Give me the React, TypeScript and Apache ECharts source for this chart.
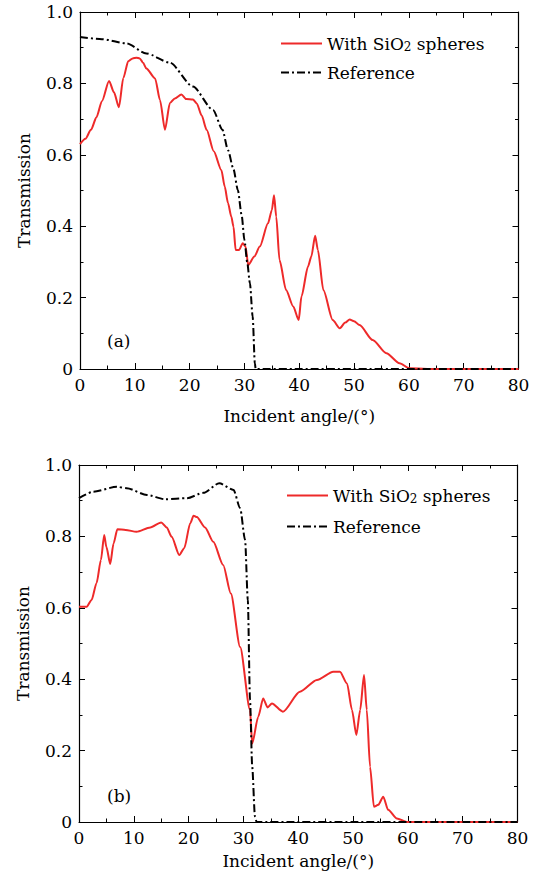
import React, { useEffect, useRef } from "react";
import * as echarts from "echarts";

// Panel (a)
const aSiO2X = [0, 1, 2, 3, 4, 5.3, 6.2, 7.1, 7.9, 8.8, 9.6, 10.3, 10.9, 11.5, 12.1, 13.7, 14.6, 15.5, 16.4, 17.3, 18.5, 19.4, 20.6, 21.3, 22.2, 23.1, 24.4, 25.8, 26.4, 27.0, 27.6, 28.0, 28.4, 29.0, 29.7, 30.2, 30.7, 31.8, 32.8, 34.3, 35.0, 35.4, 35.8, 36.4, 37.6, 38.9, 39.9, 40.4, 41.6, 42.2, 42.9, 43.4, 44.4, 46.1, 47.4, 48.4, 49.2, 50.0, 51.0, 53.4, 55.9, 58.3, 60.1, 65, 70, 75, 80];
const aSiO2Y = [0.63, 0.645, 0.67, 0.705, 0.75, 0.807, 0.775, 0.733, 0.815, 0.862, 0.870, 0.872, 0.870, 0.858, 0.842, 0.814, 0.753, 0.670, 0.745, 0.758, 0.769, 0.756, 0.755, 0.744, 0.71, 0.670, 0.610, 0.557, 0.511, 0.465, 0.427, 0.399, 0.333, 0.333, 0.352, 0.343, 0.291, 0.315, 0.343, 0.408, 0.445, 0.487, 0.427, 0.305, 0.221, 0.175, 0.137, 0.203, 0.287, 0.315, 0.373, 0.333, 0.221, 0.137, 0.114, 0.130, 0.139, 0.134, 0.123, 0.081, 0.044, 0.016, 0.002, 0, 0, 0, 0];
const aRefX = [0, 4, 8.5, 12.1, 16.4, 20.6, 24.3, 26.0, 27.0, 28.0, 28.8, 29.5, 30.0, 30.5, 31.0, 31.5, 31.9, 32.05, 40, 50, 60, 70, 80];
const aRefY = [0.93, 0.924, 0.912, 0.884, 0.858, 0.791, 0.725, 0.67, 0.613, 0.56, 0.501, 0.43, 0.361, 0.30, 0.240, 0.147, 0.016, 0, 0, 0, 0, 0, 0];

// Panel (b)
const bSiO2X = [0, 1.4, 2.3, 3.2, 4.0, 4.6, 5.0, 5.7, 6.3, 7.0, 8.5, 10.5, 13.0, 15.0, 16.0, 16.9, 18.3, 19.2, 20.3, 20.9, 21.5, 23.0, 24.5, 26.3, 27.7, 29.4, 31.2, 31.6, 32.7, 33.6, 34.4, 35.2, 37.2, 40.3, 43.4, 46.4, 47.6, 48.9, 49.8, 50.6, 51.3, 52.0, 52.5, 53.1, 53.8, 54.6, 55.5, 56.4, 58.0, 59.8, 65, 70, 75, 80];
const bSiO2Y = [0.603, 0.603, 0.622, 0.669, 0.734, 0.804, 0.77, 0.723, 0.78, 0.820, 0.818, 0.813, 0.825, 0.839, 0.825, 0.799, 0.748, 0.767, 0.837, 0.858, 0.854, 0.825, 0.785, 0.720, 0.640, 0.490, 0.314, 0.220, 0.295, 0.346, 0.321, 0.332, 0.309, 0.365, 0.398, 0.421, 0.421, 0.388, 0.314, 0.244, 0.314, 0.412, 0.314, 0.155, 0.043, 0.048, 0.071, 0.034, 0.010, 0, 0, 0, 0, 0];
const bRefX = [0, 2.6, 6.9, 8.7, 12.4, 15.7, 19.7, 22.7, 25.6, 28.2, 29.4, 30.3, 30.8, 31.2, 31.6, 32.1, 32.4, 40, 50, 60, 70, 80];
const bRefY = [0.907, 0.925, 0.939, 0.935, 0.916, 0.904, 0.907, 0.922, 0.949, 0.930, 0.879, 0.790, 0.622, 0.342, 0.155, 0.015, 0, 0, 0, 0, 0, 0];

const xTicks = [0, 10, 20, 30, 40, 50, 60, 70, 80];
const yTicks = [0, 0.2, 0.4, 0.6, 0.8, 1.0];
const seriesNames = ["With SiO2 spheres", "Reference"];
const panelLabels = ["(a)", "(b)"];
const xTitle = "Incident angle/(°)";
const yTitle = "Transmission";

const FONT = "'DejaVu Serif', serif";
const FS = 17;
const RED = "#ee2a2a";

function zip(xs: number[], ys: number[]) {
  return xs.map((x, i) => [x, ys[i]]);
}

export default function App() {
  const ref = useRef<HTMLDivElement>(null);
  useEffect(() => {
    if (!ref.current) return;
    const chart = echarts.init(ref.current, null, { renderer: "svg" });
    const grids = [
      { left: 80, top: 12, width: 438.5, height: 357 },
      { left: 79, top: 465, width: 438.5, height: 357 },
    ];
    const nameGaps = [38, 30];
    const tickCommon = {
      axisLine: { onZero: false, lineStyle: { color: "#000", width: 1.2 } },
      axisTick: { inside: true, length: 6, lineStyle: { color: "#000", width: 1 } },
      minorTick: { show: true, splitNumber: 2, length: 3.5, lineStyle: { color: "#000", width: 1 } },
      splitLine: { show: false },
    };
    const xAxes: any[] = [];
    const yAxes: any[] = [];
    grids.forEach((_, gi) => {
      xAxes.push({
        type: "value", gridIndex: gi, position: "bottom", min: xTicks[0], max: xTicks[xTicks.length - 1], interval: 10,
        ...tickCommon,
        axisLabel: { color: "#000", fontFamily: FONT, fontSize: FS, margin: 7 },
        name: xTitle, nameLocation: "middle", nameGap: nameGaps[gi],
        nameTextStyle: { color: "#000", fontFamily: FONT, fontSize: FS },
      });
      xAxes.push({
        type: "value", gridIndex: gi, position: "top", min: 0, max: 80, interval: 10,
        ...tickCommon, axisLabel: { show: false },
      });
      yAxes.push({
        type: "value", gridIndex: gi, position: "left", min: yTicks[0], max: yTicks[yTicks.length - 1], interval: 0.2,
        ...tickCommon,
        axisLabel: { color: "#000", fontFamily: FONT, fontSize: FS, margin: 7, formatter: (v: number) => (v === 0 ? "0" : v.toFixed(1)) },
        name: yTitle, nameLocation: "middle", nameGap: 48,
        nameTextStyle: { color: "#000", fontFamily: FONT, fontSize: FS },
      });
      yAxes.push({
        type: "value", gridIndex: gi, position: "right", min: 0, max: 1, interval: 0.2,
        ...tickCommon, axisLabel: { show: false },
      });
    });
    const data = [
      [zip(aSiO2X, aSiO2Y), zip(aRefX, aRefY)],
      [zip(bSiO2X, bSiO2Y), zip(bRefX, bRefY)],
    ];
    const series: any[] = [];
    data.forEach((pair, gi) => {
      series.push({
        name: seriesNames[0], type: "line", xAxisIndex: gi * 2, yAxisIndex: gi * 2,
        data: pair[0], symbol: "none", smooth: 0.25, smoothMonotone: "x",
        lineStyle: { color: RED, width: 2 }, itemStyle: { color: RED },
      });
      series.push({
        name: seriesNames[1], type: "line", xAxisIndex: gi * 2, yAxisIndex: gi * 2,
        data: pair[1], symbol: "none", smooth: 0.25, smoothMonotone: "x",
        lineStyle: { color: "#000", width: 2, type: [8, 3, 2, 3] }, itemStyle: { color: "#000" },
      });
    });
    const legendText = {
      color: "#000", fontFamily: FONT, fontSize: FS,
      rich: { sub: { fontSize: 12, fontFamily: FONT, color: "#000", padding: [7, 0, 0, 0] } },
    };
    const legendFmt = (n: string) => (n === seriesNames[0] ? "With SiO{sub|2} spheres" : n);
    const legends = [
      { left: 280, top: 35, itemGap: 11 },
      { left: 286, top: 487, itemGap: 13 },
    ].map((p) => ({
      ...p, orient: "vertical", itemWidth: 41, itemHeight: 14, padding: 0,
      itemStyle: { opacity: 0 },
      data: seriesNames, textStyle: legendText, formatter: legendFmt, selectedMode: false,
    }));
    chart.setOption({
      animation: false,
      backgroundColor: "#fff",
      grid: grids,
      xAxis: xAxes,
      yAxis: yAxes,
      legend: legends,
      series,
      graphic: [
        { type: "text", left: 107, top: 332, style: { text: panelLabels[0], fontFamily: FONT, fontSize: FS, fill: "#000" } },
        { type: "text", left: 107, top: 787, style: { text: panelLabels[1], fontFamily: FONT, fontSize: FS, fill: "#000" } },
      ],
    });
    return () => chart.dispose();
  }, []);
  return <div ref={ref} style={{ position: "fixed", left: 0, top: 0, width: 539, height: 877, background: "#fff" }} />;
}
